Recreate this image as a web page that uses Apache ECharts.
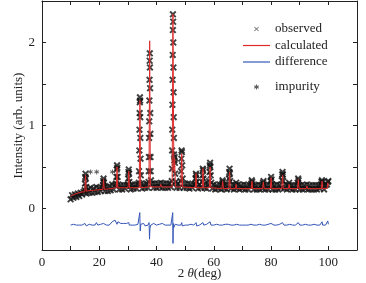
<!DOCTYPE html>
<html><head><meta charset="utf-8">
<script src="https://cdn.jsdelivr.net/npm/echarts@6/dist/echarts.min.js"></script>
<style>html,body{margin:0;padding:0;background:#fff}#c{width:366px;height:283px}</style>
</head><body><div id="c"></div>
<script>
// ---------- data ----------
const xTicks = [0, 20, 40, 60, 80, 100];
const yTicks = [0, 1, 2];
const seriesNames = ['observed', 'calculated', 'difference', 'impurity'];

const observed = [
[10,0.11],[10.5,0.16],[11,0.13],[11.5,0.17],[12,0.14],[12.5,0.18],[13,0.15],[13.5,0.19],[14,0.17],[14.5,0.20],
[14.9,0.22],[15.0,0.30],[15.1,0.38],[15.2,0.42],[15.3,0.36],[15.4,0.26],
[15.5,0.18],[16,0.23],[16.5,0.19],[17,0.25],[17.5,0.19],[18,0.24],[18.5,0.20],[19,0.26],[19.5,0.20],[20,0.25],[20.5,0.21],[21,0.25],
[21.3,0.28],[21.4,0.33],[21.5,0.36],[21.6,0.31],[21.7,0.26],
[22,0.21],[22.5,0.26],[23,0.21],[23.5,0.27],[24,0.22],[24.5,0.29],[25,0.23],[25.5,0.28],[25.8,0.30],
[26.0,0.38],[26.1,0.47],[26.2,0.52],[26.3,0.49],[26.4,0.38],[26.6,0.29],
[27,0.23],[27.5,0.28],[28,0.23],[28.5,0.28],[29,0.24],[29.5,0.28],
[30.0,0.29],[30.1,0.36],[30.2,0.44],[30.3,0.47],[30.4,0.42],[30.5,0.32],[30.7,0.27],
[31,0.23],[31.5,0.29],[32,0.24],[32.5,0.29],[33,0.24],[33.5,0.29],[33.8,0.31],
[33.9,0.45],[34.0,0.70],[34.05,0.95],[34.1,1.15],[34.15,1.28],[34.2,1.34],[34.25,1.30],[34.3,1.10],[34.35,0.85],[34.4,0.60],[34.5,0.40],[34.6,0.30],
[35,0.24],[35.5,0.29],[36,0.25],[36.5,0.30],[37,0.25],[37.2,0.32],
[37.3,0.45],[37.35,0.62],[37.4,0.85],[37.45,1.05],[37.5,1.30],[37.55,1.55],[37.6,1.78],[37.65,1.87],[37.7,1.70],[37.75,1.45],[37.8,1.15],[37.85,0.90],[37.9,0.62],[37.95,0.45],[38.05,0.34],
[38.5,0.30],[39,0.25],[39.5,0.30],[40,0.25],[40.5,0.30],[41,0.26],[41.5,0.31],[42,0.25],[42.5,0.30],[43,0.25],[43.5,0.30],[44,0.25],[44.5,0.30],[45,0.26],[45.3,0.33],
[45.4,0.48],[45.45,0.70],[45.5,0.95],[45.55,1.25],[45.6,1.55],[45.65,1.85],[45.7,2.15],[45.72,2.34],[45.8,2.25],[45.85,2.0],[45.9,1.70],[45.95,1.40],[46.0,1.10],[46.05,0.85],[46.1,0.65],
[46.2,0.58],[46.3,0.62],[46.4,0.55],[46.5,0.42],[46.7,0.32],
[47,0.25],[47.5,0.30],[48,0.25],[48.4,0.33],
[48.55,0.45],[48.65,0.60],[48.75,0.70],[48.85,0.68],[48.95,0.52],[49.1,0.36],
[49.5,0.25],[50,0.30],[50.5,0.25],[51,0.30],[51.5,0.24],[52,0.29],[52.5,0.25],[53,0.29],[53.5,0.30],
[53.65,0.36],[53.75,0.42],[53.85,0.40],[53.95,0.32],
[54.5,0.24],[55,0.29],[55.5,0.25],[55.9,0.32],
[56.05,0.40],[56.15,0.48],[56.25,0.46],[56.35,0.36],
[56.8,0.25],[57,0.30],[57.5,0.24],[58,0.29],[58.3,0.33],
[58.5,0.44],[58.6,0.52],[58.7,0.55],[58.8,0.50],[58.9,0.40],[59.1,0.31],
[59.5,0.24],[60,0.29],[60.5,0.23],[61,0.28],[61.5,0.24],[62,0.29],[62.5,0.23],
[62.95,0.30],[63.05,0.34],[63.15,0.32],[63.3,0.27],
[63.7,0.24],[64,0.29],[64.5,0.23],[65,0.28],
[65.3,0.36],[65.4,0.44],[65.5,0.48],[65.6,0.42],[65.7,0.33],
[66,0.24],[66.5,0.29],[67,0.23],[67.5,0.28],[67.8,0.31],[68,0.24],[68.5,0.29],[69,0.23],[69.5,0.28],[70,0.24],[70.5,0.29],[71,0.23],[71.5,0.28],[72,0.23],[72.5,0.28],
[73.1,0.30],[73.25,0.34],[73.4,0.32],[73.6,0.27],
[74,0.23],[74.5,0.28],[75,0.23],[75.5,0.29],[76,0.23],[76.5,0.28],[77,0.24],
[77.2,0.31],[77.35,0.33],[77.5,0.29],
[78,0.23],[78.5,0.28],[79,0.23],[79.5,0.28],
[79.85,0.33],[80.0,0.38],[80.15,0.35],[80.3,0.29],
[80.5,0.23],[81,0.28],[81.5,0.23],[82,0.29],[82.5,0.23],[83,0.28],[83.5,0.25],
[83.75,0.34],[83.9,0.41],[84.0,0.44],[84.1,0.41],[84.25,0.33],
[84.5,0.24],[85,0.29],[85.5,0.23],[86,0.28],[86.3,0.31],[86.6,0.24],[87,0.28],[87.5,0.23],[88,0.28],[88.5,0.23],[89,0.28],
[89.3,0.31],[89.45,0.36],[89.6,0.34],[89.8,0.28],
[90,0.23],[90.5,0.28],[91,0.23],[91.5,0.28],[92,0.24],[92.5,0.29],[93,0.23],[93.5,0.28],[94,0.23],[94.5,0.28],[95,0.23],[95.5,0.28],[96,0.23],[96.5,0.28],[97,0.24],[97.4,0.29],
[97.6,0.32],[97.75,0.34],[97.9,0.32],[98.1,0.28],
[98.5,0.23],[99,0.28],[99.5,0.29],[99.8,0.32],[100,0.33]
];

const calculated = [
[10,0.15],[12,0.18],[14,0.20],[14.95,0.20],[15.2,0.40],[15.45,0.21],[18,0.22],
[21.25,0.23],[21.5,0.35],[21.75,0.23],[24,0.24],[25.95,0.25],[26.2,0.50],[26.45,0.25],
[30.05,0.25],[30.3,0.45],[30.55,0.25],[33.95,0.25],[34.2,1.30],[34.45,0.25],
[37.35,0.26],[37.6,2.02],[37.85,0.26],[41.2,0.26],[41.5,0.29],[41.8,0.26],
[45.45,0.26],[45.72,2.34],[46.05,0.45],[46.3,0.60],[46.6,0.26],[48.5,0.26],[48.8,0.66],[49.1,0.26],
[53.55,0.25],[53.8,0.42],[54.05,0.25],[55.95,0.25],[56.2,0.48],[56.45,0.25],[58.45,0.25],[58.7,0.50],[58.95,0.25],
[62.85,0.24],[63.1,0.33],[63.35,0.24],[65.25,0.24],[65.5,0.44],[65.75,0.24],[67.55,0.24],[67.8,0.29],[68.05,0.24],
[73.05,0.24],[73.3,0.33],[73.55,0.24],[77.05,0.24],[77.3,0.32],[77.55,0.24],[79.75,0.24],[80.0,0.37],[80.25,0.24],
[83.75,0.24],[84.0,0.40],[84.25,0.24],[86.05,0.24],[86.3,0.29],[86.55,0.24],[89.25,0.24],[89.5,0.35],[89.75,0.24],
[92.25,0.24],[92.5,0.27],[92.75,0.24],[97.55,0.24],[97.8,0.33],[98.05,0.24],[99.55,0.24],[99.8,0.31],[100,0.27]
];

const difference = [
[10,-0.20],[10.5,-0.20],[11,-0.19],[11.5,-0.20],[12,-0.20],[12.5,-0.21],[13,-0.20],[13.5,-0.19],[14,-0.20],[14.5,-0.20],
[15,-0.18],[15.2,-0.20],[15.5,-0.21],[16,-0.20],[16.5,-0.19],[17,-0.18],[17.5,-0.20],[18,-0.20],[18.5,-0.20],[19,-0.17],
[19.5,-0.20],[20,-0.20],[20.5,-0.19],[21,-0.20],[21.5,-0.18],[22,-0.20],[22.5,-0.20],[23,-0.19],[23.5,-0.20],[24,-0.19],
[24.5,-0.16],[25,-0.17],[25.5,-0.14],[26,-0.16],[26.2,-0.19],[26.5,-0.16],[27,-0.17],[27.5,-0.18],[28,-0.17],[28.5,-0.18],
[29,-0.19],[29.5,-0.18],[30,-0.19],[30.3,-0.17],[30.5,-0.20],[31,-0.19],[31.5,-0.20],[32,-0.19],[32.5,-0.20],[33,-0.19],
[33.5,-0.19],[34,-0.17],[34.15,-0.05],[34.3,-0.27],[34.5,-0.19],[35,-0.20],[35.5,-0.18],[36,-0.21],[36.5,-0.19],[37,-0.20],
[37.4,-0.17],[37.55,-0.37],[37.7,-0.24],[38,-0.20],[38.5,-0.20],[39,-0.18],[39.5,-0.19],[40,-0.20],[40.5,-0.18],[41,-0.19],
[41.5,-0.17],[42,-0.18],[42.5,-0.19],[43,-0.20],[43.5,-0.19],[44,-0.20],[44.5,-0.19],[45,-0.20],[45.5,-0.19],
[45.65,-0.05],[45.75,-0.42],[45.85,-0.18],[46,-0.23],[46.5,-0.19],[47,-0.20],[47.5,-0.20],[48,-0.19],[48.5,-0.20],
[48.8,-0.17],[49,-0.21],[49.5,-0.20],[50,-0.20],[50.5,-0.19],[51,-0.20],[51.5,-0.20],[52,-0.19],[52.5,-0.20],[53,-0.20],
[53.8,-0.17],[54,-0.21],[54.5,-0.20],[55,-0.20],[55.5,-0.19],[56.2,-0.17],[56.5,-0.20],[57,-0.20],[57.5,-0.19],[58,-0.20],
[58.7,-0.16],[59,-0.20],[59.5,-0.19],[60,-0.20],[60.5,-0.20],[61,-0.19],[61.5,-0.20],[62,-0.20],[62.5,-0.19],[63,-0.20],
[63.5,-0.20],[64,-0.19],[64.5,-0.20],[65,-0.19],[65.5,-0.17],[66,-0.20],[66.5,-0.19],[67,-0.20],[67.5,-0.20],[68,-0.19],
[68.5,-0.20],[69,-0.20],[69.5,-0.19],[70,-0.20],[70.5,-0.21],[71,-0.20],[71.5,-0.19],[72,-0.20],[72.5,-0.20],[73,-0.19],
[73.5,-0.20],[74,-0.20],[74.5,-0.19],[75,-0.20],[75.5,-0.20],[76,-0.19],[76.5,-0.20],[77,-0.20],[77.5,-0.18],[78,-0.20],
[78.5,-0.20],[79,-0.19],[79.5,-0.20],[80,-0.18],[80.5,-0.20],[81,-0.20],[81.5,-0.19],[82,-0.20],[82.5,-0.20],[83,-0.19],
[83.5,-0.20],[84,-0.17],[84.5,-0.20],[85,-0.19],[85.5,-0.20],[86,-0.20],[86.5,-0.19],[87,-0.20],[87.5,-0.20],[88,-0.19],
[88.5,-0.20],[89,-0.20],[89.5,-0.17],[90,-0.20],[90.5,-0.19],[91,-0.20],[91.5,-0.20],[92,-0.19],[92.5,-0.20],[93,-0.20],
[93.5,-0.19],[94,-0.20],[94.5,-0.20],[95,-0.19],[95.5,-0.20],[96,-0.20],[96.5,-0.19],[97,-0.20],[97.5,-0.19],[97.8,-0.16],
[98,-0.20],[98.5,-0.19],[99,-0.20],[99.5,-0.18],[99.8,-0.15],[100,-0.19]
];

const impurity = [[16.9,0.44],[19.1,0.44],[24.6,0.44]];

// ---------- symbol shapes (style helpers) ----------
function bar(cx, cy, angDeg, r, w) {
  const a = angDeg * Math.PI / 180;
  const dx = Math.cos(a) * r, dy = Math.sin(a) * r;
  const px = -Math.sin(a) * w, py = Math.cos(a) * w;
  const p = [[cx+dx+px, cy+dy+py],[cx+dx-px, cy+dy-py],[cx-dx-px, cy-dy-py],[cx-dx+px, cy-dy+py]];
  return 'M' + p.map(q => q[0].toFixed(3) + ',' + q[1].toFixed(3)).join('L') + 'Z';
}
function crossShape(cx, cy, r, w) { return bar(cx, cy, 45, r, w) + bar(cx, cy, 135, r, w); }
function starShape(cx, cy, r, w) { return bar(cx, cy, 90, r, w) + bar(cx, cy, 30, r, w) + bar(cx, cy, 150, r, w); }
const crossSym = 'path://' + crossShape(5, 5, 5, 1.2);
const starSym = 'path://' + starShape(5, 5, 5, 0.9);
const crossIcon = 'path://M0,0M27,14' + crossShape(13.5, 7, 3.0, 0.35);
const starIcon = 'path://M0,0M27,14' + starShape(13.5, 7, 2.6, 0.5);
const lineIcon = 'path://M0,0M27,14M0,6.4L27,6.4L27,7.6L0,7.6Z';

const RED = '#e02a2a';
const BLUE = '#3556b8';
const DARK = '#111111';
const FONT = 'Liberation Serif';
const TXT = '#222';
const chart = echarts.init(document.getElementById('c'), null, { renderer: 'canvas' });

const tickCommon = { show: true, inside: true, length: 4, lineStyle: { color: '#222', width: 1 } };
const lineCommon = { show: true, onZero: false, lineStyle: { color: '#222', width: 1 } };

chart.setOption({
  animation: false,
  backgroundColor: '#fff',
  color: [DARK, RED, BLUE, '#333'],
  grid: { left: 42, right: 9, top: 1, bottom: 33, containLabel: false, outerBoundsMode: 'none' },
  legend: [
    {
      data: [
        { name: seriesNames[0], icon: crossIcon, itemStyle: { color: '#333', borderWidth: 0 } },
        { name: seriesNames[1], icon: lineIcon, itemStyle: { color: RED, borderColor: RED, borderWidth: 0 } },
        { name: seriesNames[2], icon: lineIcon, itemStyle: { color: BLUE, borderColor: BLUE, borderWidth: 0 } }
      ],
      orient: 'vertical', left: 243, top: 22, padding: 0,
      itemWidth: 27, itemHeight: 14, itemGap: 2.5,
      textStyle: { fontFamily: FONT, fontSize: 13, color: TXT },
      selectedMode: false
    },
    {
      data: [{ name: seriesNames[3], icon: starIcon, itemStyle: { color: '#333', borderWidth: 0 } }],
      orient: 'vertical', left: 243, top: 80, padding: 0,
      itemWidth: 27, itemHeight: 14,
      textStyle: { fontFamily: FONT, fontSize: 13, color: TXT },
      selectedMode: false
    }
  ],
  xAxis: [
    {
      type: 'value', position: 'bottom', min: 0, max: 110, interval: 10,
      axisLine: lineCommon, axisTick: tickCommon, splitLine: { show: false },
      axisLabel: {
        fontFamily: FONT, fontSize: 13, color: TXT, margin: 6,
        formatter: v => (xTicks.indexOf(v) >= 0 ? String(v) : '')
      },
      name: '2 {i|θ}(deg)', nameLocation: 'middle', nameGap: 17, nameMoveOverlap: false,
      nameTextStyle: {
        fontFamily: FONT, fontSize: 13, color: TXT,
        rich: { i: { fontFamily: FONT, fontSize: 13, fontStyle: 'italic', color: TXT } }
      }
    },
    {
      type: 'value', position: 'top', min: 0, max: 110, interval: 10,
      axisLine: lineCommon, axisTick: tickCommon, axisLabel: { show: false }, splitLine: { show: false }
    }
  ],
  yAxis: [
    {
      type: 'value', position: 'left', min: -0.5, max: 2.5, interval: 0.5,
      axisLine: lineCommon, axisTick: tickCommon, splitLine: { show: false },
      axisLabel: {
        fontFamily: FONT, fontSize: 13, color: TXT, margin: 7,
        formatter: v => (yTicks.indexOf(v) >= 0 ? String(v) : '')
      },
      name: 'Intensity (arb. units)', nameLocation: 'middle', nameGap: 17, nameMoveOverlap: false,
      nameTextStyle: { fontFamily: FONT, fontSize: 13, color: TXT }
    },
    {
      type: 'value', position: 'right', min: -0.5, max: 2.5, interval: 0.5,
      axisLine: lineCommon, axisTick: tickCommon, axisLabel: { show: false }, splitLine: { show: false }
    }
  ],
  series: [
    {
      name: seriesNames[0], type: 'scatter', data: observed, color: DARK,
      symbol: crossSym, symbolSize: 7, itemStyle: { color: DARK }, z: 2
    },
    {
      name: seriesNames[1], type: 'line', data: calculated, symbol: 'none', color: RED,
      lineStyle: { color: RED, width: 1 }, itemStyle: { color: RED }, z: 3
    },
    {
      name: seriesNames[2], type: 'line', data: difference, symbol: 'none', color: BLUE,
      lineStyle: { color: BLUE, width: 1 }, itemStyle: { color: BLUE }, z: 3
    },
    {
      name: seriesNames[3], type: 'scatter', data: impurity, color: '#333',
      symbol: starSym, symbolSize: 5, itemStyle: { color: '#333' }, z: 4
    }
  ]
});
</script>
</body></html>
